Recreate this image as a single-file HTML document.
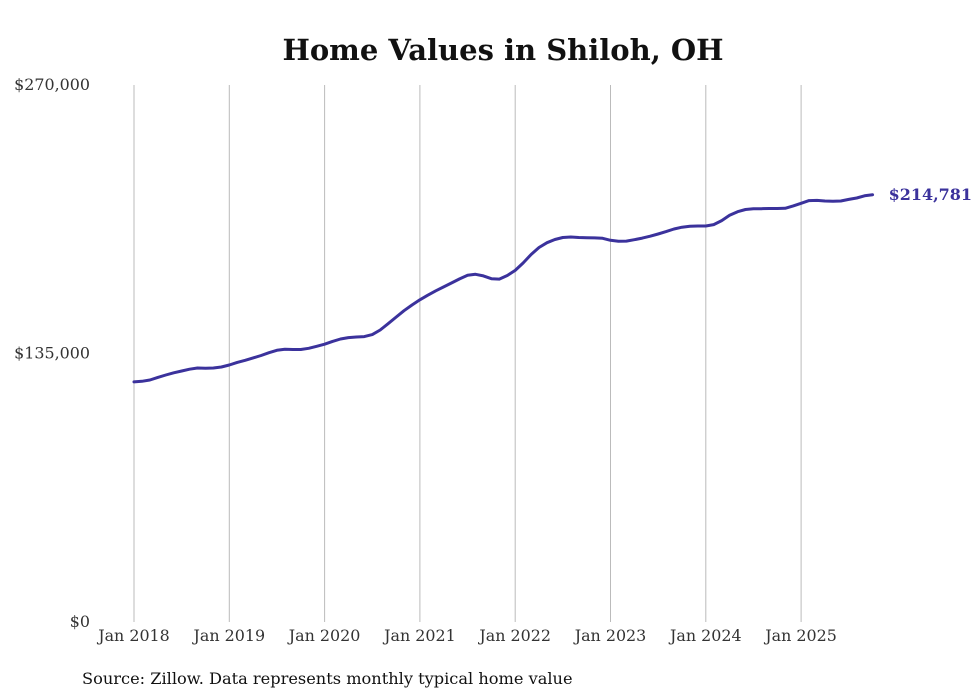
<!DOCTYPE html>
<html><head><meta charset="utf-8"><style>
html,body{margin:0;padding:0;background:#fff;}
svg{display:block;font-family:"DejaVu Serif","Liberation Serif",serif;}
</style></head><body>
<svg id="chart" width="980" height="699">
<text x="503" y="60" text-anchor="middle" font-size="29" font-weight="bold" fill="#111">Home Values in Shiloh, OH</text>
<g id="grid"></g><g id="yaxis"></g><g id="xaxis"></g><g id="series"></g>
<text x="82" y="684" font-size="16.2" fill="#111">Source: Zillow. Data represents monthly typical home value</text>
</svg>
<script>
const yTicks=[0,135000,270000];
const yTickLabels=["$0","$135,000","$270,000"];
const xYears=[2018,2019,2020,2021,2022,2023,2024,2025];
const xTickLabels=["Jan 2018","Jan 2019","Jan 2020","Jan 2021","Jan 2022","Jan 2023","Jan 2024","Jan 2025"];
const values=[120700,121000,121700,123000,124200,125300,126200,127100,127700,127600,127700,128200,
129200,130500,131600,132800,134000,135400,136600,137100,137000,137000,137600,138600,
139700,141100,142300,143000,143300,143500,144500,146800,150000,153300,156500,159400,
162000,164300,166500,168500,170500,172500,174300,174800,174000,172600,172400,174200,
176800,180500,184800,188300,190700,192300,193300,193600,193300,193200,193100,192900,
191900,191400,191500,192200,193000,194000,195100,196300,197600,198500,199000,199100,
199100,199800,201800,204500,206300,207400,207800,207800,207900,207900,208000,209200,
210500,211900,212000,211700,211600,211700,212500,213200,214300,214781];
const lastLabel="$214,781";
const NS="http://www.w3.org/2000/svg";
const y=v=>622-v*(537/270000);
const x=m=>134+m*(95.3/12);
function mk(tag,attrs,parent,text){const e=document.createElementNS(NS,tag);for(const k in attrs)e.setAttribute(k,attrs[k]);if(text!==undefined)e.textContent=text;document.getElementById(parent).appendChild(e);return e;}
xYears.forEach((yr,i)=>{
  const px=x((yr-2018)*12);
  const g=mk('line',{x1:px,x2:px,y1:85,y2:622,stroke:'#bbb','stroke-width':1},'grid');
  
  
  const t=mk('text',{x:px,y:641,'text-anchor':'middle','font-size':15.9,fill:'#333'},'xaxis',xTickLabels[i]);
  
  
});
yTicks.forEach((v,i)=>{
  const t=mk('text',{x:90,y:y(v)+5,'text-anchor':'end','font-size':15.9,fill:'#333'},'yaxis',yTickLabels[i]);
  
  
});
const d=values.map((v,i)=>(i?'L':'M')+x(i).toFixed(1)+','+y(v).toFixed(1)).join(' ');
const p=mk('path',{d:d,fill:'none',stroke:'#3b329c','stroke-width':3,'stroke-linejoin':'round','stroke-linecap':'round'},'series');


const li=values.length-1;
const lt=mk('text',{x:x(li)+16,y:y(values[li])+5,'font-size':16,'font-weight':'bold',fill:'#3b329c'},'series',lastLabel);


</script>
</body></html>
